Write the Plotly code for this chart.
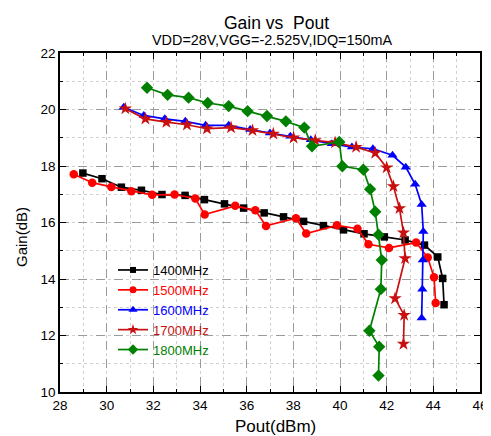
import plotly.graph_objects as go

pout_1400 = [28.98, 29.8, 30.63, 31.49, 32.37, 33.36, 34.19, 35.05, 35.87, 36.75, 37.58, 38.44, 39.29, 40.15, 41.03, 41.9, 42.79, 43.62, 44.19, 44.4, 44.46]
gain_1400 = [17.75, 17.55, 17.25, 17.14, 16.99, 16.96, 16.81, 16.66, 16.51, 16.34, 16.2, 16.04, 15.89, 15.74, 15.6, 15.49, 15.38, 15.2, 14.78, 14.02, 13.09]

pout_1500 = [28.59, 29.38, 30.2, 31.06, 31.95, 32.91, 33.8, 34.2, 35.51, 36.37, 36.83, 38.11, 38.55, 39.87, 40.75, 41.22, 42.1, 43.26, 43.76, 44.03, 44.1]
gain_1500 = [17.71, 17.41, 17.26, 17.11, 16.98, 16.99, 16.85, 16.28, 16.59, 16.43, 15.88, 16.15, 15.61, 15.9, 15.78, 15.23, 15.1, 15.29, 14.76, 14.06, 13.15]

pout_1600 = [30.73, 31.59, 32.49, 33.37, 34.24, 35.23, 36.15, 37.0, 37.87, 38.75, 39.65, 40.51, 41.41, 42.25, 42.82, 43.22, 43.5, 43.57, 43.55, 43.53, 43.5]
gain_1600 = [20.08, 19.79, 19.67, 19.58, 19.44, 19.44, 19.29, 19.17, 19.05, 18.93, 18.79, 18.67, 18.61, 18.38, 17.96, 17.35, 16.64, 15.68, 14.67, 13.64, 12.62]

pout_1700 = [30.8, 31.66, 32.56, 33.44, 34.3, 35.33, 36.25, 37.14, 38.01, 38.94, 39.79, 40.69, 41.51, 42.0, 42.29, 42.55, 42.72, 42.79, 42.36, 42.75, 42.72]
gain_1700 = [20.03, 19.67, 19.55, 19.46, 19.32, 19.36, 19.26, 19.14, 19.0, 18.91, 18.83, 18.67, 18.46, 17.94, 17.28, 16.5, 15.64, 14.73, 13.31, 12.72, 11.7]

pout_1800 = [31.73, 32.61, 33.51, 34.33, 35.23, 36.04, 36.87, 37.68, 38.47, 38.8, 39.97, 40.1, 41.0, 41.29, 41.51, 41.65, 41.79, 41.75, 41.26, 41.68, 41.65]
gain_1800 = [20.77, 20.52, 20.42, 20.23, 20.12, 19.94, 19.77, 19.58, 19.36, 18.7, 18.85, 17.99, 17.87, 17.18, 16.38, 15.57, 14.67, 13.64, 12.17, 11.6, 10.58]

series_names = ["1400MHz", "1500MHz", "1600MHz", "1700MHz", "1800MHz"]
x_ticks = [28, 30, 32, 34, 36, 38, 40, 42, 44, 46]
y_ticks = [10, 12, 14, 16, 18, 20, 22]

FONT = "Arial, Liberation Sans, sans-serif"

# colour, symbol, marker size on chart, marker size in legend
styles = [
    ("#000000", "square", 7.5, 6),
    ("#FF0000", "circle", 8.5, 7),
    ("#0000FF", "triangle-up", 9, 8),
    ("#C81010", "star", 10, 8),
    ("#008000", "diamond", 9.5, 8),
]
data = [(pout_1400, gain_1400), (pout_1500, gain_1500), (pout_1600, gain_1600),
        (pout_1700, gain_1700), (pout_1800, gain_1800)]

fig = go.Figure()
for name, (xs, ys), (col, sym, sz, lsz) in zip(series_names, data, styles):
    fig.add_trace(go.Scatter(
        x=xs, y=ys, mode="lines+markers", showlegend=False,
        line=dict(color=col, width=1.7),
        marker=dict(color=col, symbol=sym, size=sz, line=dict(width=0)),
    ))
# legend entries (smaller symbols, as in the reference)
for name, (col, sym, sz, lsz) in zip(series_names, styles):
    fig.add_trace(go.Scatter(
        x=[None], y=[None], mode="lines+markers",
        name=f'<span style="color:{col}">{name}</span>',
        line=dict(color=col, width=1.7),
        marker=dict(color=col, symbol=sym, size=lsz, line=dict(width=0)),
    ))

axis_common = dict(
    showline=True, linecolor="black", linewidth=1.5, mirror="allticks",
    ticks="inside", ticklen=6, tickwidth=1.2, tickcolor="black",
    showgrid=True, gridcolor="#9a9a9a", griddash="dash", gridwidth=1,
    zeroline=False, automargin=False,
    tickfont=dict(family=FONT, size=13.5, color="black"),
    minor=dict(dtick=1, ticks="inside", ticklen=3, tickcolor="black",
               showgrid=True, gridcolor="#d0d0d0", griddash="dot", gridwidth=1),
)

# page body adds an 8px offset; figure size compensates
OFF = 8
W, H = 491 - OFF, 436 - OFF
L, R, T, B = 60 - OFF, 11, 53 - OFF, 44
plot_w = W - L - R
plot_h = H - T - B


def py(y_page):
    """page pixel y -> paper y"""
    return 1 - (y_page - OFF - T) / plot_h


def px(x_page):
    return (x_page - OFF - L) / plot_w


fig.update_layout(
    width=W, height=H,
    margin=dict(l=L, r=R, t=T, b=B, autoexpand=False),
    paper_bgcolor="white", plot_bgcolor="white",
    font=dict(family=FONT, color="black"),
    xaxis=dict(range=[28, 46], tickvals=x_ticks, **axis_common),
    yaxis=dict(range=[10, 22], tickvals=y_ticks, **axis_common),
    showlegend=True,
    legend=dict(x=px(113), y=py(255), xanchor="left", yanchor="top",
                bgcolor="rgba(0,0,0,0)", font=dict(family=FONT, size=13),
                tracegroupgap=0),
    annotations=[
        dict(text="Gain vs  Pout", x=px(276), y=py(23), xref="paper", yref="paper",
             xanchor="center", yanchor="middle", showarrow=False,
             font=dict(size=17.5, family=FONT)),
        dict(text="VDD=28V,VGG=-2.525V,IDQ=150mA", x=px(272), y=py(40),
             xref="paper", yref="paper", xanchor="center", yanchor="middle",
             showarrow=False, font=dict(size=14.4, family=FONT)),
        dict(text="Pout(dBm)", x=px(275), y=py(426), xref="paper", yref="paper",
             xanchor="center", yanchor="middle", showarrow=False,
             font=dict(size=17, family=FONT)),
        dict(text="Gain(dB)", x=px(21), y=py(237), xref="paper", yref="paper",
             xanchor="center", yanchor="middle", showarrow=False, textangle=-90,
             font=dict(size=15, family=FONT)),
    ],
)

fig.write_html("out.html")
